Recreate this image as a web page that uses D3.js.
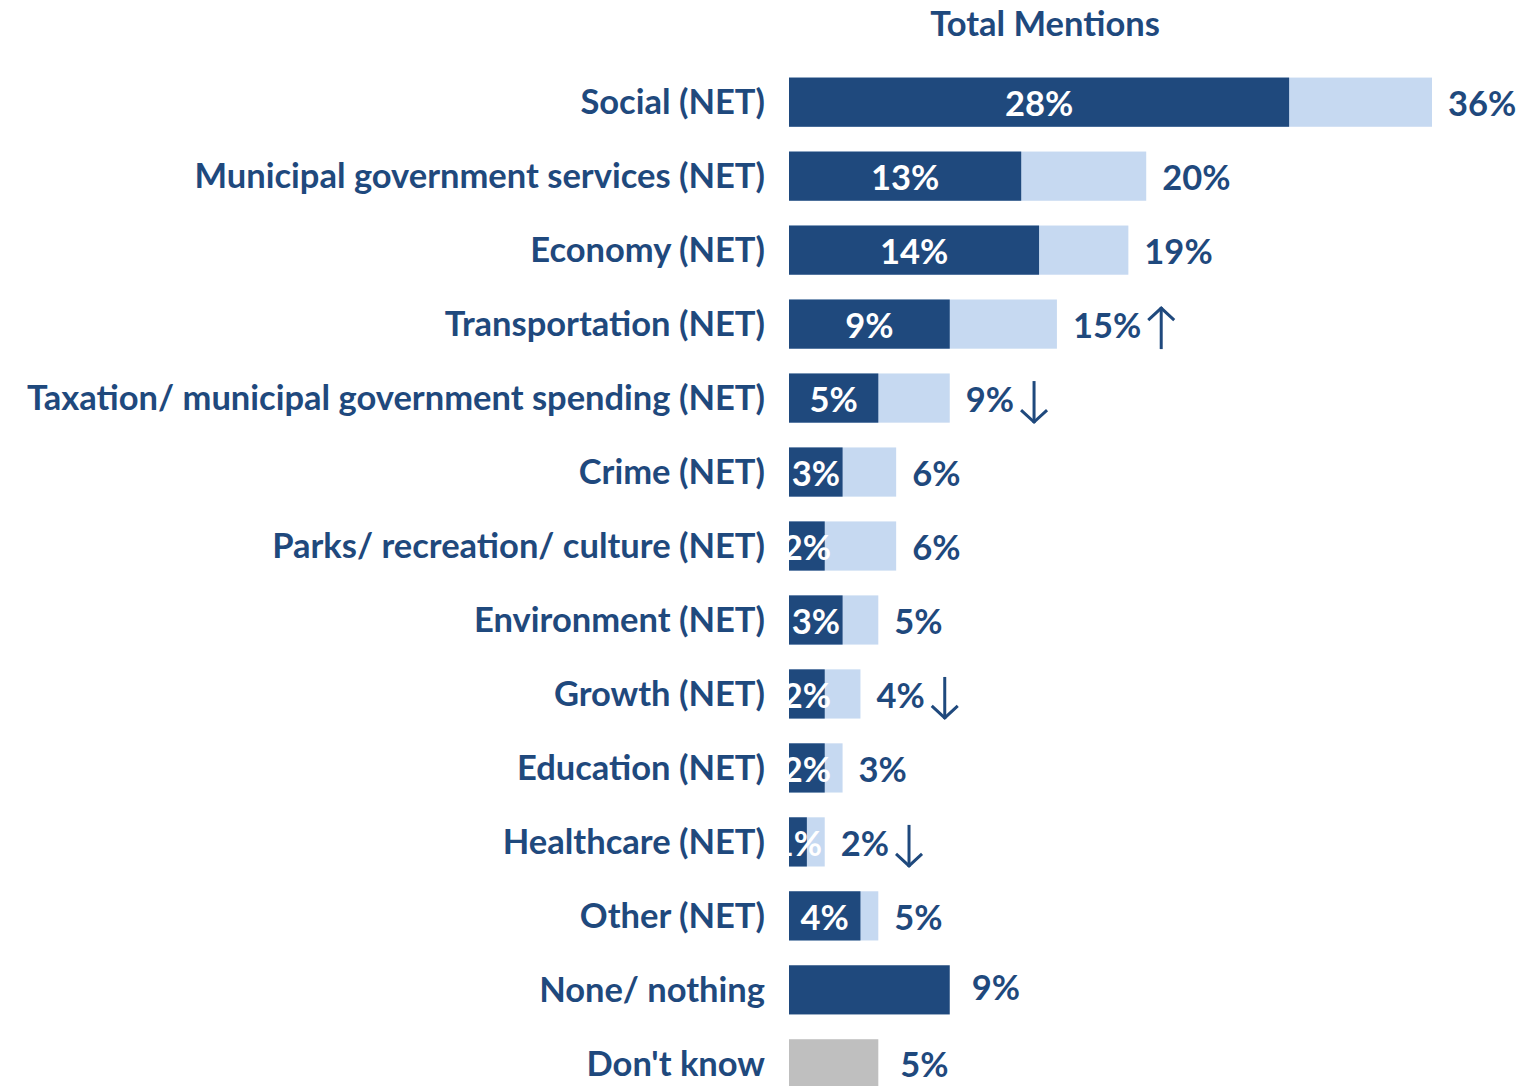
<!DOCTYPE html>
<html>
<head>
<meta charset="utf-8">
<script src="https://cdn.jsdelivr.net/npm/d3@7"></script>
<style>
  html, body { margin: 0; padding: 0; background: #ffffff; }
  svg text { font-family: Lato, "Open Sans", sans-serif; font-weight: 700; }
</style>
</head>
<body>
<svg id="chart" width="1516" height="1086"></svg>
<script>
// Top-of-mind issues: first mention vs. total mentions (%)
const categories = [
  "Social (NET)",
  "Municipal government services (NET)",
  "Economy (NET)",
  "Transportation (NET)",
  "Taxation/ municipal government spending (NET)",
  "Crime (NET)",
  "Parks/ recreation/ culture (NET)",
  "Environment (NET)",
  "Growth (NET)",
  "Education (NET)",
  "Healthcare (NET)",
  "Other (NET)",
  "None/ nothing",
  "Don't know"
];
const firstMention = [28, 13, 14, 9, 5, 3, 2, 3, 2, 2, 1, 4, null, null];
const totalMentions = [36, 20, 19, 15, 9, 6, 6, 5, 4, 3, 2, 5, 9, 5];
// significant change vs. previous wave: "up", "down" or null
const changeFlags = [null, null, null, "up", "down", null, null, null, "down", null, "down", null, null, null];
// rows drawn as one solid bar instead of first/total pair
const solidKind = [null, null, null, null, null, null, null, null, null, null, null, null, "dark", "grey"];

const colors = { dark: "#1F497D", light: "#C6D9F1", grey: "#BFBFBF", text: "#1F497D" };

const svg = d3.select("#chart");
const x0 = 789;
const x = d3.scaleLinear().domain([0, 36]).range([x0, 1432]);
const y = d3.scaleBand().domain(categories).range([65, 1101]).paddingInner(0.335).paddingOuter(0.17);

const fs = 34.5;

// title
svg.append("text")
  .attr("x", 1045).attr("y", 36)
  .attr("text-anchor", "middle")
  .attr("fill", colors.text)
  .style("font-size", fs + "px")
  .text("Total Mentions");

const rows = categories.map((c, i) => ({
  cat: c, first: firstMention[i], total: totalMentions[i], flag: changeFlags[i], solid: solidKind[i], i
}));

const defs = svg.append("defs");
rows.forEach(d => {
  defs.append("clipPath").attr("id", "clip" + d.i)
    .append("rect")
    .attr("x", x(0)).attr("y", y(d.cat))
    .attr("width", x(d.total) - x(0)).attr("height", y.bandwidth());
});

const g = svg.append("g");

// category labels
g.selectAll("text.cat").data(rows).join("text")
  .attr("class", "cat")
  .attr("x", 765)
  .attr("y", d => y(d.cat) + y.bandwidth() / 2)
  .attr("dy", "0.35em")
  .attr("text-anchor", "end")
  .attr("fill", colors.text)
  .style("font-size", fs + "px")
  .text(d => d.cat);

// total bars (light) / solid bars
g.selectAll("rect.total").data(rows).join("rect")
  .attr("class", "total")
  .attr("x", x(0))
  .attr("y", d => y(d.cat))
  .attr("width", d => x(d.total) - x(0))
  .attr("height", y.bandwidth())
  .attr("fill", d => d.solid === "dark" ? colors.dark : d.solid === "grey" ? colors.grey : colors.light);

// first-mention bars (dark)
const firstRows = rows.filter(d => d.first != null);
g.selectAll("rect.first").data(firstRows).join("rect")
  .attr("class", "first")
  .attr("x", x(0))
  .attr("y", d => y(d.cat))
  .attr("width", d => x(d.first) - x(0))
  .attr("height", y.bandwidth())
  .attr("fill", colors.dark);

// first-mention labels inside the bars
g.selectAll("text.first").data(firstRows).join("text")
  .attr("class", "first")
  .attr("clip-path", d => "url(#clip" + d.i + ")")
  .attr("x", d => (x(0) + x(d.first)) / 2)
  .attr("y", d => y(d.cat) + y.bandwidth() / 2 + 2)
  .attr("dy", "0.35em")
  .attr("text-anchor", "middle")
  .attr("fill", "#ffffff")
  .style("font-size", fs + "px")
  .text(d => d.first + "%");

// total labels
const totalLabels = g.selectAll("text.totlab").data(rows).join("text")
  .attr("class", "totlab")
  .attr("x", d => x(d.total) + (d.solid ? 22 : 16))
  .attr("y", d => y(d.cat) + y.bandwidth() / 2 + (d.solid === "grey" ? 1 : d.solid === "dark" ? -2 : 2))
  .attr("dy", "0.35em")
  .attr("fill", colors.text)
  .style("font-size", fs + "px")
  .text(d => d.total + "%");

// change arrows
totalLabels.each(function(d) {
  if (!d.flag) return;
  const w = this.getComputedTextLength();
  const ax = x(d.total) + 16 + w + 20;
  const cy = y(d.cat) + y.bandwidth() / 2 + 4;
  const top = cy - 21, bot = cy + 21;
  const ag = g.append("g")
    .attr("fill", "none")
    .attr("stroke", colors.text)
    .attr("stroke-width", 3)
    .attr("stroke-linecap", "butt");
  ag.append("line").attr("x1", ax).attr("x2", ax).attr("y1", top).attr("y2", bot);
  if (d.flag === "up") {
    ag.append("path").attr("d", `M${ax - 13},${top + 13} L${ax},${top + 1} L${ax + 13},${top + 13}`);
  } else {
    ag.append("path").attr("d", `M${ax - 13},${bot - 13} L${ax},${bot - 1} L${ax + 13},${bot - 13}`);
  }
});
</script>
</body>
</html>
